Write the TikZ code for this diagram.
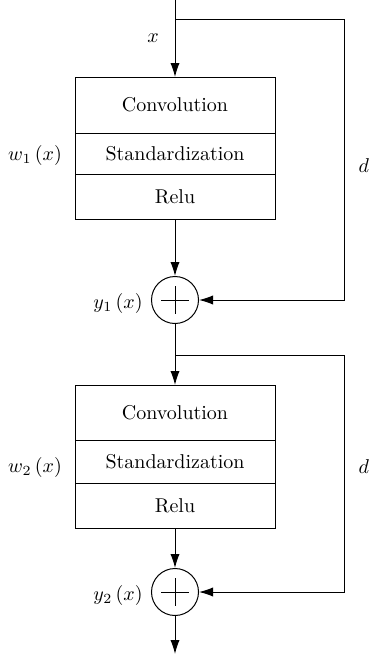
\documentclass[tikz,border=0pt]{standalone}
\usepackage{amsmath}
\usetikzlibrary{arrows.meta,positioning,calc}
\tikzset{>={Latex[length=7pt,width=4.6pt]}}
\tikzset{layer/.style={draw, minimum width=100pt, inner sep=0pt, outer sep=0pt}}
\tikzset{adder/.style={draw, circle, minimum size=23.5pt, inner sep=0pt}}

\begin{document}
\begin{tikzpicture}[x=0.5pt, y=-0.5pt, line width=0.5pt]
  \useasboundingbox (0,0) rectangle (371,654);
  % first block
  \coordinate (in) at (175,0);
  \coordinate (split1) at (175,19);
  \coordinate (skip1) at (344,19);
  \node[layer, anchor=north, minimum height=28pt] (conv1) at (175,77) {Convolution};
  \node[layer, minimum height=20.5pt, below=0pt of conv1] (std1) {Standardization};
  \node[layer, minimum height=22.5pt, below=0pt of std1] (relu1) {Relu};
  \node[adder] (add1) at (175,300) {};
  % second block
  \coordinate (split2) at (175,355);
  \coordinate (skip2) at (344,355);
  \node[layer, anchor=north, minimum height=27.5pt] (conv2) at (175,385) {Convolution};
  \node[layer, minimum height=21.5pt, below=0pt of conv2] (std2) {Standardization};
  \node[layer, minimum height=22.5pt, below=0pt of std2] (relu2) {Relu};
  \node[adder] (add2) at (175,592) {};
  \coordinate (out) at (175,654);
  % plus signs
  \foreach \a in {add1,add2}
    \draw ($(\a)+(-14,0)$) -- ($(\a)+(14,0)$) ($(\a)+(0,-14)$) -- ($(\a)+(0,14)$);
  % connectors
  \draw[->] (in) -- (conv1.north);
  \draw[->] (split1) -- (skip1) |- (add1);
  \draw[->] (relu1) -- (add1);
  \draw[->] (add1) -- (conv2.north);
  \draw[->] (split2) -- (skip2) |- (add2);
  \draw[->] (relu2) -- (add2);
  \draw[->] (add2) -- (out);
  % labels
  \node (xlab) at (153,38) {$x$};
  \node (w1lab) at (35,155) {$w_1\,(x)$};
  \node[anchor=west, inner sep=0pt] (d1lab) at (358,166) {$d$};
  \node (y1lab) at (118,303) {$y_1\,(x)$};
  \node (w2lab) at (35,467) {$w_2\,(x)$};
  \node[anchor=west, inner sep=0pt] (d2lab) at (358,467) {$d$};
  \node (y2lab) at (118,595) {$y_2\,(x)$};
\end{tikzpicture}
\end{document}
